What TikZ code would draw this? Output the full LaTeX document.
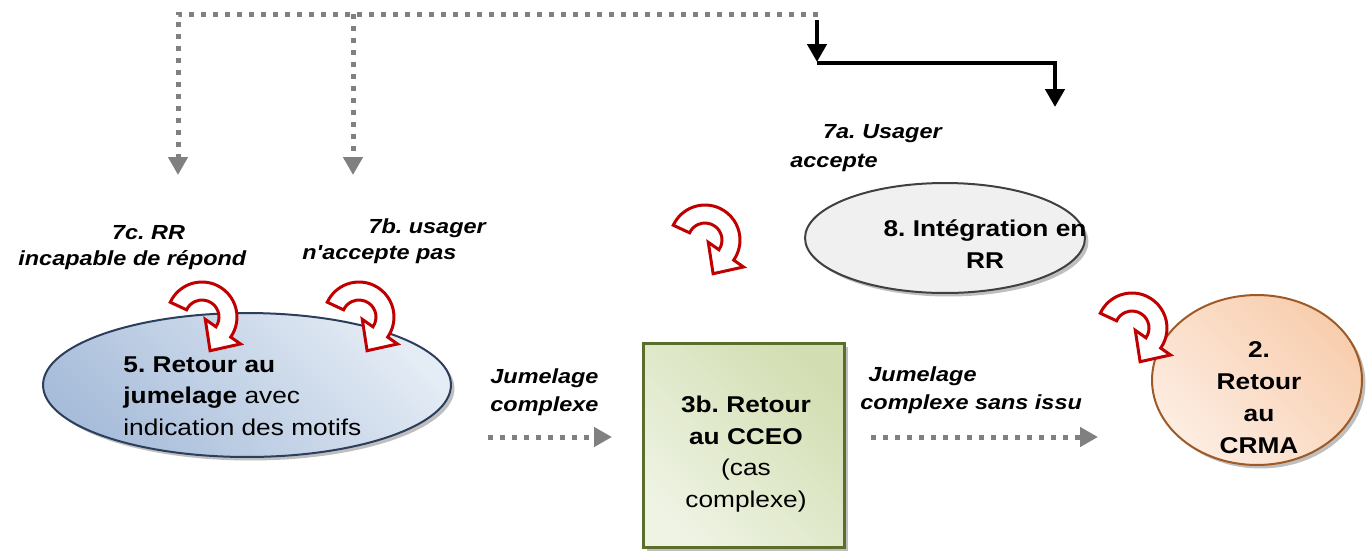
\documentclass[tikz,border=0pt]{standalone}
\usepackage{fontspec}
\setmainfont{Liberation Sans}
\usetikzlibrary{arrows.meta,shapes.geometric,shadows}
\definecolor{gdot}{HTML}{808080}
\definecolor{curlred}{HTML}{C00000}
\definecolor{bluedark}{HTML}{A8BDDA}
\definecolor{bluelight}{HTML}{E4ECF5}
\definecolor{blueedge}{HTML}{2B3E5C}
\definecolor{greenlight}{HTML}{EEF3E3}
\definecolor{greendark}{HTML}{D2DEB2}
\definecolor{greenedge}{HTML}{5B6E2C}
\definecolor{peachlight}{HTML}{FDEDE2}
\definecolor{peachdark}{HTML}{F8CDAD}
\definecolor{brownedge}{HTML}{9E5A26}
\definecolor{grayfill}{HTML}{F0F0F0}
\definecolor{grayedge}{HTML}{404040}
\frenchspacing
\tikzset{
  shadowed/.style={drop shadow={shadow xshift=0.07cm, shadow yshift=-0.07cm, opacity=0.25, fill=black}},
  dotline/.style={draw=gdot, line width=0.1cm, dash pattern=on 0.1cm off 0.14cm, -{Triangle[length=0.36cm,width=0.38cm]}},
  blkline/.style={draw=black, line width=0.09cm, -{Triangle[length=0.36cm,width=0.38cm]}},
  txt/.style={xscale=1.15, transform shape, inner sep=0pt},
  maintxt/.style={txt, font=\fontsize{13}{17.9}\selectfont\frenchspacing},
  boldtxt/.style={txt, font=\fontsize{13}{#1}\selectfont\bfseries\frenchspacing, align=center, anchor=base},
  boldtxt/.default=17.9pt,
  lbl/.style={txt, font=\fontsize{11.6}{#1}\selectfont\bfseries\itshape\frenchspacing, align=left, anchor=base west},
  lbl/.default=17pt,
  curlstyle/.style={draw=curlred, fill=white, line width=0.06cm, line join=miter},
  curl/.pic={\path[curlstyle] (155:35) arc[start angle=155,end angle=-35,radius=0.7cm] -- (-35:47) -- (8.1,-33.7) -- (-35:4) -- (-35:17) arc[start angle=-35,end angle=155,radius=0.34cm] -- cycle;}
}
\begin{document}
\begin{tikzpicture}[x=0.02cm,y=0.02cm]
\useasboundingbox (0,0) rectangle (1366,-552);
% shapes
\node[ellipse, draw=blueedge, line width=0.04cm, shadowed, top color=bluelight, bottom color=bluedark, shading angle=-45, minimum width=8.16cm, minimum height=2.88cm, inner sep=0] (e5) at (247,-385) {};
\node[ellipse, draw=grayedge, line width=0.04cm, shadowed, fill=grayfill, minimum width=5.6cm, minimum height=2.2cm, inner sep=0] (e8) at (945,-238) {};
\node[rectangle, draw=greenedge, line width=0.06cm, shadowed, top color=greendark, bottom color=greenlight, shading angle=-45, minimum width=4.04cm, minimum height=4.1cm, inner sep=0] (b3) at (744,-445.5) {};
\node[ellipse, draw=brownedge, line width=0.04cm, shadowed, top color=peachdark, bottom color=peachlight, shading angle=-45, minimum width=4.2cm, minimum height=3.4cm, inner sep=0] (c2) at (1257,-380) {};
% connector coordinates
\coordinate (g0) at (818,-14);
\coordinate (g1) at (178,-14);
\coordinate (g2) at (178,-175);
\coordinate (g3) at (353,-14);
\coordinate (g4) at (353,-175);
\coordinate (h0) at (488,-437);
\coordinate (h1) at (612,-437);
\coordinate (h2) at (871,-437);
\coordinate (h3) at (1098,-437);
\coordinate (k0) at (817,-20);
\coordinate (k1) at (817,-62);
\coordinate (k2) at (1055,-63);
\coordinate (k3) at (1055,-107);
% connectors
\draw[dotline] (g0) -- (g1) -- (g2);
\draw[dotline] (g3) -- (g4);
\draw[dotline] (h0) -- (h1);
\draw[dotline] (h2) -- (h3);
\draw[blkline] (k0) -- (k1);
\draw[blkline] (k1 |- k2) -- (k2) -- (k3);
% texts (anchor base = baseline of the last line)
\node[maintxt, align=left, anchor=base west] (t5) at (123,-435) {\textbf{5. Retour au}\\\textbf{jumelage} avec\\indication des motifs};
\node[maintxt, align=center, anchor=base] (t3b) at (746,-507) {\textbf{3b. Retour}\\\textbf{au CCEO}\\(cas\\complexe)};
\node[boldtxt=18.2pt] (t2) at (1259,-453) {2.\\Retour\\au\\CRMA};
\node[boldtxt] (t8) at (985,-268) {8. Intégration en\\RR};
\node[lbl=14.8pt] (l7c) at (18,-265) {\hspace*{1.63cm}7c. RR\\incapable de répond};
\node[lbl=14.8pt] (l7b) at (302,-259) {\hspace*{1.15cm}7b. usager\\n\textquotesingle accepte pas};
\node[lbl=16.5pt] (l7a) at (790,-167) {\hspace*{0.57cm}7a. Usager\\accepte};
\node[lbl=15.9pt] (ljc) at (490,-411) {Jumelage\\complexe};
\node[lbl=15.6pt] (ljs) at (860,-409) {\hspace*{0.14cm}Jumelage\\complexe sans issu};
% curved arrows
\pic at (202,-317) {curl};
\pic at (359,-317) {curl};
\pic at (705,-240) {curl};
\pic at (1132,-328) {curl};
\end{tikzpicture}
\end{document}
